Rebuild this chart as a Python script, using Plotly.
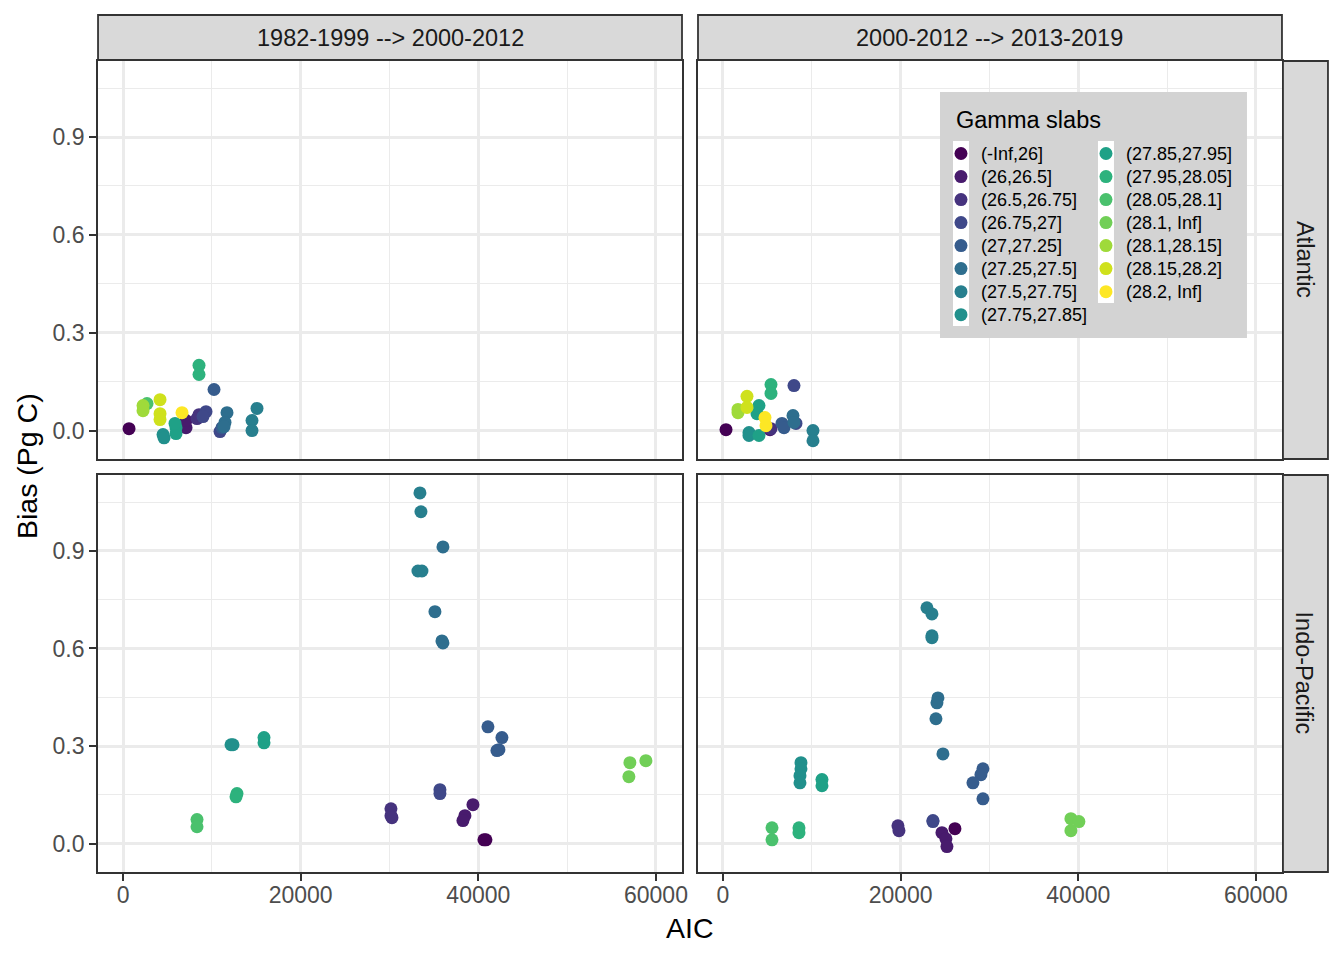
import plotly.graph_objects as go

# gamma slab categories (legend order)
slab_labels = ['(-Inf,26]', '(26,26.5]', '(26.5,26.75]', '(26.75,27]', '(27,27.25]',
               '(27.25,27.5]', '(27.5,27.75]', '(27.75,27.85]', '(27.85,27.95]',
               '(27.95,28.05]', '(28.05,28.1]', '(28.1, Inf]', '(28.1,28.15]',
               '(28.15,28.2]', '(28.2, Inf]']
slab_colors = ['#440154', '#481B6D', '#46337E', '#3F4889', '#365C8D', '#2E6E8E',
               '#277F8E', '#21908C', '#1FA187', '#2DB27D', '#4AC16D', '#71CF57',
               '#9FDA3A', '#CFE11C', '#FDE725']

# Atlantic, 1982-1999 --> 2000-2012
atl_1_slab = [0, 1, 1, 2, 2, 3, 3, 3, 4, 4, 5, 5, 5, 6, 6, 6, 7, 7, 8, 8, 8, 9, 9,
              10, 12, 12, 13, 13, 13, 14]
atl_1_aic = [675, 7091, 7091, 8329, 8554, 9342, 9004, 10917, 10242, 11142, 11705, 11480,
             11368, 15082, 14519, 14519, 4502, 4615, 5965, 5965, 5853, 8554, 8554,
             2701, 2251, 2251, 4164, 4164, 4164, 6640]
atl_1_bias = [0.006, 0.009, 0.031, 0.037, 0.049, 0.058, 0.043, -0.003, 0.126, 0.009,
              0.055, 0.025, 0.012, 0.068, 0.031, 0.0, -0.012, -0.022, 0.009, -0.009,
              0.022, 0.200, 0.172, 0.083, 0.077, 0.061, 0.095, 0.052, 0.034, 0.055]

# Atlantic, 2000-2012 --> 2013-2019
atl_2_slab = [0, 1, 2, 3, 3, 4, 4, 5, 5, 6, 6, 7, 7, 8, 8, 8, 9, 9, 12, 12, 13, 13,
              14, 14]
atl_2_aic = [338, 5290, 5402, 7991, 8216, 6640, 6866, 7879, 7991, 10130, 10130, 2926,
             2926, 4052, 3827, 4052, 5402, 5402, 1688, 1688, 2701, 2701, 4727, 4840]
atl_2_bias = [0.003, 0.003, 0.006, 0.138, 0.022, 0.022, 0.009, 0.046, 0.025, 0.0,
              -0.031, -0.006, -0.015, 0.077, 0.052, -0.015, 0.141, 0.114, 0.065, 0.055,
              0.105, 0.071, 0.040, 0.015]

# Indo-Pacific, 1982-1999 --> 2000-2012
ind_1_slab = [0, 0, 1, 1, 1, 2, 2, 2, 3, 3, 4, 4, 4, 4, 5, 5, 5, 5, 6, 6, 6, 6, 7, 7,
              8, 8, 9, 9, 10, 10, 11, 11, 11]
ind_1_aic = [40856, 40631, 39393, 38492, 38267, 30163, 30163, 30276, 35678, 35678,
             41081, 42657, 42319, 42094, 36016, 35115, 35903, 36016, 33427, 33540,
             33202, 33652, 12155, 12381, 15870, 15870, 12831, 12718, 8329, 8329,
             57063, 56950, 58864]
ind_1_bias = [0.012, 0.012, 0.120, 0.086, 0.071, 0.107, 0.086, 0.080, 0.166, 0.154,
              0.359, 0.326, 0.289, 0.286, 0.912, 0.713, 0.623, 0.617, 1.078, 1.020,
              0.838, 0.838, 0.304, 0.304, 0.326, 0.310, 0.154, 0.144, 0.074, 0.052,
              0.249, 0.206, 0.255]

# Indo-Pacific, 2000-2012 --> 2013-2019
ind_2_slab = [0, 1, 1, 1, 2, 2, 3, 3, 4, 4, 4, 4, 5, 5, 5, 5, 6, 6, 6, 6, 7, 7, 7, 7,
              8, 8, 9, 9, 10, 10, 11, 11, 11]
ind_2_aic = [26112, 24648, 25099, 25211, 19696, 19809, 23636, 23636, 29263, 29038,
             28138, 29263, 24198, 24086, 23973, 24761, 22960, 23523, 23523, 23523,
             8779, 8779, 8666, 8666, 11142, 11142, 8554, 8554, 5515, 5515, 39167,
             39167, 40068]
ind_2_bias = [0.046, 0.034, 0.015, -0.009, 0.055, 0.040, 0.071, 0.068, 0.230, 0.212,
              0.187, 0.138, 0.448, 0.433, 0.384, 0.276, 0.725, 0.706, 0.639, 0.633,
              0.249, 0.230, 0.209, 0.187, 0.197, 0.178, 0.049, 0.034, 0.049, 0.012,
              0.077, 0.040, 0.068]

col_titles = ['1982-1999 --> 2000-2012', '2000-2012 --> 2013-2019']
row_titles = ['Atlantic', 'Indo-Pacific']

# the page body keeps its 8px margin; the photo comes out slightly narrowed
OFF = 8
SX = 1344 / 1350
W, H = 1350 - 2 * OFF, 940
FONT = 'Liberation Sans, Arial, sans-serif'

def px_x(p):
    return (p / SX - OFF) / W

def px_y(p):
    return 1 - (p - OFF) / H

# panel geometry in window pixels
col_px = [(98, 682), (698, 1282)]
row_px = [(61, 459), (475, 872)]

panels = [
    (0, 0, atl_1_aic, atl_1_bias, atl_1_slab),
    (0, 1, atl_2_aic, atl_2_bias, atl_2_slab),
    (1, 0, ind_1_aic, ind_1_bias, ind_1_slab),
    (1, 1, ind_2_aic, ind_2_bias, ind_2_slab),
]

fig = go.Figure()
shown = set()
for k, (r, c, aic, bias, slab) in enumerate(panels):
    ax = '' if k == 0 else str(k + 1)
    for g in sorted(set(slab)):
        xs = [a for a, s in zip(aic, slab) if s == g]
        ys = [b for b, s in zip(bias, slab) if s == g]
        fig.add_trace(go.Scatter(
            x=xs, y=ys, mode='markers',
            name='<span style="font-size:18px">' + slab_labels[g] + '</span>',
            marker=dict(color=slab_colors[g], size=13, line=dict(width=0)),
            legendgroup=slab_labels[g], legendrank=g,
            legend='legend' if g < 8 else 'legend2',
            showlegend=g not in shown,
            xaxis='x' + ax, yaxis='y' + ax))
        shown.add(g)

    x0, x1 = col_px[c]
    y0, y1 = row_px[r]
    common = dict(showline=True, mirror=True, linecolor='#333333', linewidth=1.8,
                  showgrid=True, gridcolor='#EBEBEB', gridwidth=2.8, zeroline=False,
                  tickcolor='#333333', tickwidth=1.8, ticklen=7,
                  tickfont=dict(family=FONT, size=23, color='#4D4D4D'))
    fig.layout['xaxis' + ax] = dict(
        common, domain=[px_x(x0), px_x(x1)], anchor='y' + ax,
        range=[-2815, 62930], tick0=0, dtick=20000, tickformat='d',
        ticklabelstandoff=-6,
        minor=dict(dtick=10000, showgrid=True, gridcolor='#EBEBEB', gridwidth=1.4),
        ticks='outside' if r == 1 else '', showticklabels=(r == 1))
    fig.layout['yaxis' + ax] = dict(
        common, domain=[px_y(y1), px_y(y0)], anchor='x' + ax,
        range=[-0.087, 1.133], tick0=0, dtick=0.3, tickformat='.1f',
        minor=dict(dtick=0.15, showgrid=True, gridcolor='#EBEBEB', gridwidth=1.4),
        ticks='outside' if c == 0 else '', showticklabels=(c == 0))

shapes = []
annotations = []
# column strips
for c, title in enumerate(col_titles):
    x0, x1 = col_px[c]
    shapes.append(dict(type='rect', xref='paper', yref='paper',
                       x0=px_x(x0), x1=px_x(x1), y0=px_y(60), y1=px_y(15),
                       fillcolor='#D9D9D9', line=dict(color='#333333', width=1.8)))
    annotations.append(dict(text=title, xref='paper', yref='paper',
                            x=px_x((x0 + x1) / 2), y=px_y(38), showarrow=False,
                            xanchor='center', yanchor='middle',
                            font=dict(family=FONT, size=23.5, color='#1A1A1A')))
# row strips
for r, title in enumerate(row_titles):
    y0, y1 = row_px[r]
    shapes.append(dict(type='rect', xref='paper', yref='paper',
                       x0=px_x(1283), x1=px_x(1328), y0=px_y(y1), y1=px_y(y0),
                       fillcolor='#D9D9D9', line=dict(color='#333333', width=1.8)))
    annotations.append(dict(text=title, xref='paper', yref='paper',
                            x=px_x(1305), y=px_y((y0 + y1) / 2), showarrow=False,
                            textangle=90, xanchor='center', yanchor='middle',
                            font=dict(family=FONT, size=23.5, color='#1A1A1A')))

# legend box and key backgrounds
shapes.append(dict(type='rect', xref='paper', yref='paper', layer='above',
                   x0=px_x(940), x1=px_x(1247), y0=px_y(338), y1=px_y(92),
                   fillcolor='#D3D3D3', line=dict(width=0)))
shapes.append(dict(type='rect', xref='paper', yref='paper', layer='above',
                   x0=px_x(953), x1=px_x(969), y0=px_y(326), y1=px_y(141),
                   fillcolor='white', line=dict(width=0)))
shapes.append(dict(type='rect', xref='paper', yref='paper', layer='above',
                   x0=px_x(1098), x1=px_x(1114), y0=px_y(303), y1=px_y(141),
                   fillcolor='white', line=dict(width=0)))
annotations.append(dict(text='Gamma slabs', xref='paper', yref='paper',
                        x=px_x(954), y=px_y(120), showarrow=False,
                        xanchor='left', yanchor='middle',
                        font=dict(family=FONT, size=23.5, color='black')))

# axis titles
annotations.append(dict(text='AIC', xref='paper', yref='paper', x=px_x(690), y=px_y(928),
                        showarrow=False, xanchor='center', yanchor='middle',
                        font=dict(family=FONT, size=28.5, color='black')))
annotations.append(dict(text='Bias (Pg C)', xref='paper', yref='paper', x=px_x(27),
                        y=px_y(466), showarrow=False, textangle=-90,
                        xanchor='center', yanchor='middle',
                        font=dict(family=FONT, size=28.5, color='black')))

legend_common = dict(bgcolor='rgba(0,0,0,0)', borderwidth=0, xanchor='left',
                     yanchor='top', yref='paper', xref='paper', tracegroupgap=0,
                     font=dict(family=FONT, size=15.4, color='black'))
fig.update_layout(
    width=W, height=H,
    margin=dict(l=0, r=0, t=0, b=0),
    plot_bgcolor='white', paper_bgcolor='white',
    shapes=shapes, annotations=annotations,
    legend=dict(legend_common, x=px_x(941), y=px_y(137)),
    legend2=dict(legend_common, x=px_x(1086), y=px_y(137)),
)

fig.write_html('out.html')
